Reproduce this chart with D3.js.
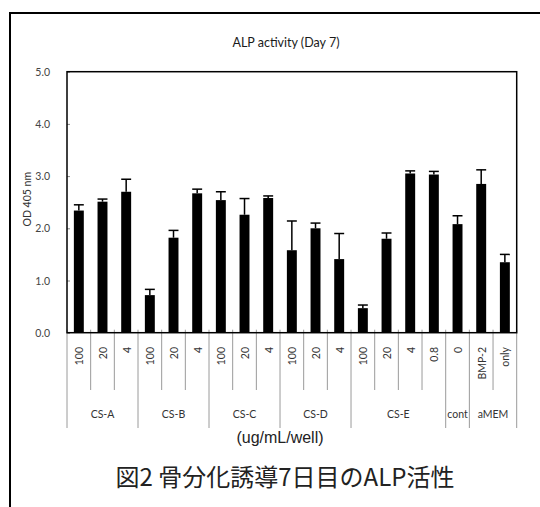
<!DOCTYPE html>
<html>
<head>
<meta charset="utf-8">
<script src="https://cdn.jsdelivr.net/npm/d3@7"></script>
<style>
  html, body { margin: 0; padding: 0; background: #fff; }
  svg { display: block; }
</style>
</head>
<body>
<svg id="chart" width="540" height="507"></svg>
<script>
// ---- data ----
const barLabels = ["100","20","4","100","20","4","100","20","4","100","20","4","100","20","4","0.8","0","BMP-2","only"];
const barGroups = ["CS-A","CS-A","CS-A","CS-B","CS-B","CS-B","CS-C","CS-C","CS-C","CS-D","CS-D","CS-D","CS-E","CS-E","CS-E","CS-E","cont","aMEM","aMEM"];
const groupNames = ["CS-A","CS-B","CS-C","CS-D","CS-E","cont","aMEM"];
const values = [2.34,2.51,2.70,0.72,1.82,2.67,2.54,2.26,2.58,1.58,2.00,1.41,0.47,1.80,3.05,3.03,2.08,2.85,1.35];
const errors = [0.11,0.05,0.24,0.11,0.14,0.08,0.16,0.31,0.04,0.56,0.10,0.49,0.06,0.11,0.05,0.06,0.16,0.27,0.15];
const yTicks = [0,1,2,3,4,5];
const title = "ALP activity (Day 7)";
const yTitle = "OD 405 nm";
const xTitle = "(ug/mL/well)";
const caption = "図2 骨分化誘導7日目のALP活性";

// ---- layout ----
const svg = d3.select("#chart");
const L = 67, R = 516.7, T = 71.7, B = 332.7;
const font = "Lato, 'Open Sans', sans-serif";
const ids = values.map((d, i) => i);

const x = d3.scaleBand().domain(ids).range([L, R]).padding(0);
const y = d3.scaleLinear().domain([0, 5]).range([B, T]);
const bw = x.bandwidth() * 0.42;

// outer frame
svg.append("rect").attr("x", 10).attr("y", 13).attr("width", 560).attr("height", 520)
  .attr("fill", "none").attr("stroke", "#000").attr("stroke-width", 2);

// title
svg.append("text").attr("x", 286).attr("y", 47).attr("text-anchor", "middle")
  .attr("font-family", font).attr("font-size", 12.5).attr("fill", "#1a1a1a").text(title);

// y axis
const yAxis = d3.axisLeft(y).tickValues(yTicks).tickFormat(d3.format(".1f"))
  .tickSizeInner(-3).tickSizeOuter(0).tickPadding(17);
const gy = svg.append("g").attr("transform", `translate(${L},0)`).call(yAxis);
gy.select(".domain").remove();
gy.selectAll(".tick line").attr("stroke", "#888");
gy.selectAll(".tick text").attr("font-family", font).attr("font-size", 10.5).attr("fill", "#444").attr("dy", "0.35em");

// y title
svg.append("text").attr("transform", `translate(27,${(T + B) / 2 - 3}) rotate(-90)`)
  .attr("text-anchor", "middle").attr("dominant-baseline", "central")
  .attr("font-family", font).attr("font-size", 10.5).attr("fill", "#333").text(yTitle);

// category separators
const boundaries = d3.range(ids.length + 1);
svg.append("g").selectAll("line").data(boundaries).join("line")
  .attr("x1", i => i < ids.length ? x(i) : R)
  .attr("x2", i => i < ids.length ? x(i) : R)
  .attr("y1", B - 3)
  .attr("y2", i => (i === 0 || i === ids.length || barGroups[i] !== barGroups[i - 1]) ? 428 : 390)
  .attr("stroke", "#9a9a9a").attr("stroke-width", 1);

// bars
svg.append("g").selectAll("rect").data(ids).join("rect")
  .attr("x", i => x(i) + (x.bandwidth() - bw) / 2)
  .attr("y", i => y(values[i]))
  .attr("width", bw)
  .attr("height", i => y(0) - y(values[i]))
  .attr("fill", "#000");

// error bars
const eg = svg.append("g").attr("stroke", "#000").attr("stroke-width", 1.5);
eg.selectAll("line.v").data(ids).join("line").attr("class", "v")
  .attr("x1", i => x(i) + x.bandwidth() / 2).attr("x2", i => x(i) + x.bandwidth() / 2)
  .attr("y1", i => y(values[i])).attr("y2", i => y(values[i] + errors[i]));
eg.selectAll("line.c").data(ids).join("line").attr("class", "c")
  .attr("x1", i => x(i) + x.bandwidth() / 2 - bw / 2).attr("x2", i => x(i) + x.bandwidth() / 2 + bw / 2)
  .attr("y1", i => y(values[i] + errors[i])).attr("y2", i => y(values[i] + errors[i]));

// plot frame
svg.append("rect").attr("x", L).attr("y", T).attr("width", R - L).attr("height", B - T)
  .attr("fill", "none").attr("stroke", "#000").attr("stroke-width", 1.5);

// bar labels (rotated)
svg.append("g").selectAll("text").data(ids).join("text")
  .attr("transform", i => `translate(${x(i) + x.bandwidth() / 2 + 0.5},347) rotate(-90)`)
  .attr("text-anchor", "end").attr("dominant-baseline", "central")
  .attr("font-family", font).attr("font-size", 10.5).attr("fill", "#333")
  .text(i => barLabels[i]);

// group labels
const groupInfo = groupNames.map(g => {
  const idx = ids.filter(i => barGroups[i] === g);
  return { g, start: x(idx[0]), end: x(idx[idx.length - 1]) + x.bandwidth() };
});
svg.append("g").selectAll("text").data(groupInfo).join("text")
  .attr("x", d => (d.start + d.end) / 2).attr("y", 414)
  .attr("text-anchor", "middle").attr("dominant-baseline", "central")
  .attr("font-family", font).attr("font-size", 10.5).attr("fill", "#333")
  .text(d => d.g);

// x title
svg.append("text").attr("x", 280).attr("y", 443).attr("text-anchor", "middle")
  .attr("font-family", "'Liberation Sans', Arial, sans-serif").attr("font-size", 16).attr("fill", "#222")
  .text(xTitle);

// caption
svg.append("text").attr("x", 285).attr("y", 486).attr("text-anchor", "middle")
  .attr("font-family", "'Noto Sans CJK JP', sans-serif").attr("font-size", 24).attr("fill", "#222")
  .text(caption);
</script>
</body>
</html>
